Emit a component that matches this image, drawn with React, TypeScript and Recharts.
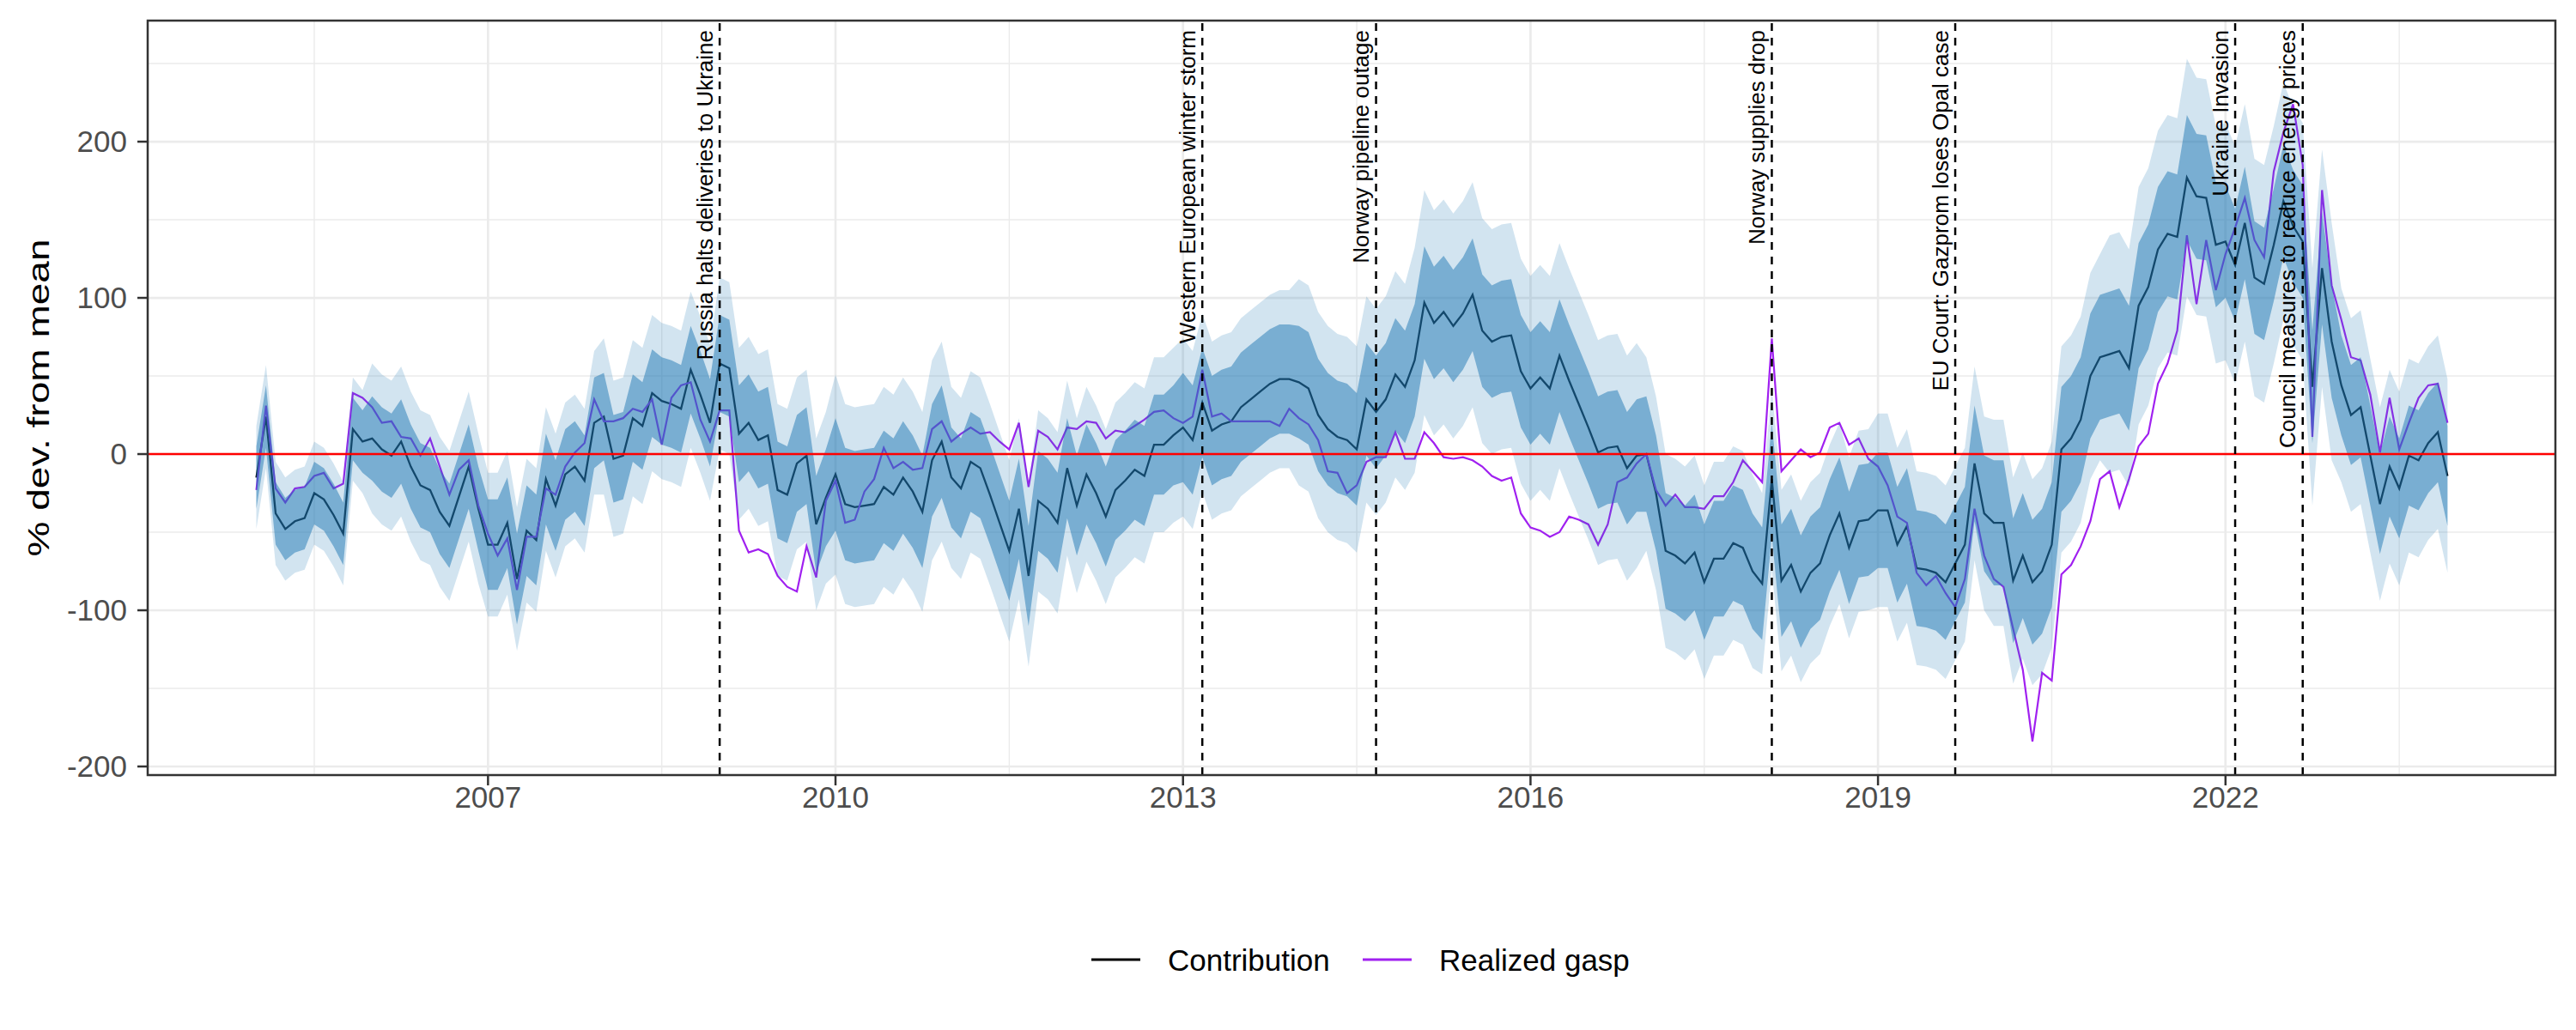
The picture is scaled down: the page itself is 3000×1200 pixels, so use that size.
import React from "react";
import {
  ComposedChart,
  Line,
  Area,
  XAxis,
  YAxis,
  ReferenceLine,
  ReferenceArea,
} from "recharts";

// monthly series, first point is January 2005
const firstYear = 2005;

const contribution = [
  -15, 24, -38, -48, -43, -41, -25, -29, -39, -51, 16, 8,
  10, 3, -1, 8, -8, -20, -23, -37, -46, -27, -8, -35,
  -58, -58, -44, -80, -49, -55, -16, -33, -13, -8, -17, 20,
  24, -3, -1, 23, 18, 39, 34, 32, 29, 54, 38, 20,
  58, 55, 13, 20, 9, 12, -23, -26, -6, -1, -45, -28,
  -13, -32, -34, -33, -32, -21, -26, -15, -24, -37, -4, 8,
  -15, -22, -5, -9, -26, -44, -62, -35, -78, -30, -35, -44,
  -9, -33, -13, -25, -40, -23, -17, -10, -14, 6, 6, 12,
  17, 9, 33, 15, 19, 21, 30, 35, 40, 45, 48, 48,
  46, 42, 25, 16, 11, 9, 3, 35, 27, 35, 51, 43,
  60, 97, 84, 91, 82, 90, 102, 79, 72, 75, 76, 53,
  42, 49, 42, 63, 47, 32, 17, 1, 4, 5, -9, -1,
  0, -25, -62, -65, -70, -63, -82, -67, -67, -57, -60, -75,
  -83, -16, -81, -71, -88, -76, -70, -52, -38, -60, -43, -42,
  -36, -36, -58, -46, -73, -74, -76, -82, -70, -58, -6, -38,
  -44, -44, -81, -65, -82, -75, -58, 3, 10, 22, 50, 62,
  64, 66, 55, 95, 107, 131, 141, 139, 177, 165, 164, 134,
  136, 121, 148, 113, 109, 134, 162, 146, 136, 43, 119, 72,
  44, 25, 30, -1, -32, -8, -22, -1, -4, 7, 14, -14,
];

const realized = [
  -23, 31, -22, -31, -22, -21, -14, -12, -22, -19, 39, 36,
  30, 20, 21, 11, 10, -1, 10, -8, -26, -10, -4, -33,
  -51, -65, -54, -87, -53, -53, -22, -26, -8, 1, 7, 35,
  21, 21, 23, 29, 27, 35, 6, 36, 44, 46, 22, 8,
  28, 28, -49, -63, -61, -64, -78, -85, -88, -59, -79, -30,
  -17, -44, -42, -24, -16, 4, -9, -5, -10, -9, 16, 21,
  8, 13, 17, 13, 14, 8, 3, 20, -21, 15, 11, 3,
  17, 16, 21, 20, 10, 15, 14, 18, 22, 27, 28, 23,
  20, 24, 54, 24, 26, 21, 21, 21, 21, 21, 18, 29,
  23, 19, 9, -11, -12, -25, -20, -5, -2, -2, 14, -3,
  -3, 14, 7, -2, -3, -2, -4, -8, -14, -17, -15, -38,
  -47, -49, -53, -50, -40, -42, -45, -58, -45, -18, -15, -6,
  0, -23, -33, -26, -34, -34, -35, -27, -27, -18, -4, -11,
  -18, 74, -11, -4, 3, -2, 1, 17, 20, 6, 10, -3,
  -8, -20, -40, -44, -76, -84, -78, -89, -98, -80, -35, -65,
  -80, -85, -112, -138, -184, -140, -145, -77, -71, -59, -43, -16,
  -11, -34, -16, 5, 13, 45, 58, 79, 140, 96, 137, 105,
  128, 145, 164, 137, 126, 181, 206, 224, 185, 11, 169, 108,
  86, 62, 60, 38, 1, 36, 3, 20, 36, 44, 45, 20,
];

// half widths of the two uncertainty bands, one value per year 2005..2023
const innerHalfWidth = [20, 27, 29, 28, 31, 36, 32, 32, 35, 36, 36, 36, 37, 36, 37, 40, 40, 36, 32];
const outerHalfWidth = [33, 48, 46, 50, 55, 64, 58, 56, 57, 66, 72, 72, 62, 58, 62, 66, 76, 76, 62];

const eventMonths = ["2009-01", "2013-03", "2014-09", "2018-02", "2019-09", "2022-02", "2022-09"];
const eventLabels = [
  "Russia halts deliveries to Ukraine",
  "Western European winter storm",
  "Norway pipeline outage",
  "Norway supplies drop",
  "EU Court: Gazprom loses Opal case",
  "Ukraine Invasion",
  "Council measures to reduce energy prices",
];

const xTicks = [2007, 2010, 2013, 2016, 2019, 2022];
const xMinorGrid = [2005.5, 2008.5, 2011.5, 2014.5, 2017.5, 2020.5, 2023.5];
const yTicks = [-200, -100, 0, 100, 200];
const yMinorGrid = [-150, -50, 50, 150, 250];

const X_DOMAIN: [number, number] = [2004.062, 2024.848];
const Y_DOMAIN: [number, number] = [-205.5, 277.5];
const FONT = "'Liberation Sans', Arial, Helvetica, sans-serif";

const rows = contribution.map((c, i) => {
  const yr = Math.floor(i / 12);
  return {
    t: firstYear + i / 12,
    contribution: c,
    realized: realized[i],
    inner: [c - innerHalfWidth[yr], c + innerHalfWidth[yr]],
    outer: [c - outerHalfWidth[yr], c + outerHalfWidth[yr]],
  };
});

const events = eventMonths.map((m, i) => {
  const [y, mo] = m.split("-").map(Number);
  return { t: y + (mo - 1) / 12, label: eventLabels[i] };
});

const EventLabel = (props: any) => {
  const vb = props.viewBox;
  if (!vb) return null;
  return (
    <text
      transform={`translate(${vb.x - 8.5}, ${vb.y + 11}) rotate(-90)`}
      textAnchor="end"
      fontSize={26}
      fontFamily={FONT}
      fill="#000"
    >
      {props.text}
    </text>
  );
};

export default function App() {
  return (
    <div
      style={{
        position: "absolute",
        left: 0,
        top: 0,
        width: 3000,
        height: 1200,
        background: "#fff",
        fontFamily: FONT,
      }}
    >
      <ComposedChart
        width={3000}
        height={1200}
        data={rows}
        margin={{ top: 24, right: 24, left: 0, bottom: 237 }}
      >
        <XAxis
          dataKey="t"
          type="number"
          domain={X_DOMAIN}
          allowDataOverflow
          ticks={xTicks}
          tickSize={12}
          tickMargin={1}
          height={60}
          axisLine={false}
          tickLine={{ stroke: "#333", strokeWidth: 2.5 }}
          tick={{ fill: "#4d4d4d", fontSize: 35, fontFamily: FONT }}
        />
        <YAxis
          type="number"
          domain={Y_DOMAIN}
          allowDataOverflow
          ticks={yTicks}
          width={172}
          tickSize={12}
          tickMargin={12}
          axisLine={false}
          tickLine={{ stroke: "#333", strokeWidth: 2.5 }}
          tick={{ fill: "#4d4d4d", fontSize: 35, fontFamily: FONT }}
        />

        {yMinorGrid.map((v) => (
          <ReferenceLine key={`ym${v}`} y={v} stroke="#ebebeb" strokeWidth={1.4} zIndex={-60} />
        ))}
        {xMinorGrid.map((v) => (
          <ReferenceLine key={`xm${v}`} x={v} stroke="#ebebeb" strokeWidth={1.4} zIndex={-60} />
        ))}
        {yTicks.map((v) => (
          <ReferenceLine key={`yM${v}`} y={v} stroke="#ebebeb" strokeWidth={2.7} zIndex={-50} />
        ))}
        {xTicks.map((v) => (
          <ReferenceLine key={`xM${v}`} x={v} stroke="#ebebeb" strokeWidth={2.7} zIndex={-50} />
        ))}

        <Line
          type="linear"
          dataKey="contribution"
          stroke="#000"
          strokeWidth={2.3}
          dot={false}
          activeDot={false}
          isAnimationActive={false}
          zIndex={50}
        />
        <Line
          type="linear"
          dataKey="realized"
          stroke="#A020F0"
          strokeWidth={2.2}
          dot={false}
          activeDot={false}
          isAnimationActive={false}
          zIndex={51}
        />
        <Area
          type="linear"
          dataKey="outer"
          stroke="none"
          fill="#1f78b4"
          fillOpacity={0.2}
          dot={false}
          activeDot={false}
          isAnimationActive={false}
          zIndex={100}
        />
        <Area
          type="linear"
          dataKey="inner"
          stroke="none"
          fill="#1f78b4"
          fillOpacity={0.5}
          dot={false}
          activeDot={false}
          isAnimationActive={false}
          zIndex={101}
        />

        <ReferenceLine y={0} stroke="#ff0000" strokeWidth={2.5} zIndex={200} />
        {events.map((e) => (
          <ReferenceLine
            key={e.label}
            x={e.t}
            stroke="#000"
            strokeWidth={2.5}
            strokeDasharray="9 8"
            zIndex={210}
            label={<EventLabel text={e.label} />}
          />
        ))}

        <ReferenceArea
          x1={X_DOMAIN[0]}
          x2={X_DOMAIN[1]}
          y1={Y_DOMAIN[0]}
          y2={Y_DOMAIN[1]}
          fill="none"
          stroke="#333"
          strokeWidth={2.5}
          ifOverflow="visible"
          zIndex={300}
        />
      </ComposedChart>

      <svg
        width={3000}
        height={1200}
        style={{ position: "absolute", left: 0, top: 0, pointerEvents: "none" }}
      >
        <text
          transform="translate(57, 463.5) rotate(-90)"
          textAnchor="middle"
          fontSize={35}
          textLength={370}
          lengthAdjust="spacingAndGlyphs"
          fontFamily={FONT}
          fill="#000"
        >
          % dev. from mean
        </text>

        <line x1={1271} x2={1328} y1={1118} y2={1118} stroke="#000" strokeWidth={3} />
        <text x={1360} y={1131} fontSize={35} fontFamily={FONT} fill="#000">
          Contribution
        </text>
        <line x1={1587} x2={1644} y1={1118} y2={1118} stroke="#A020F0" strokeWidth={3} />
        <text x={1676} y={1131} fontSize={35} fontFamily={FONT} fill="#000">
          Realized gasp
        </text>
      </svg>
    </div>
  );
}
